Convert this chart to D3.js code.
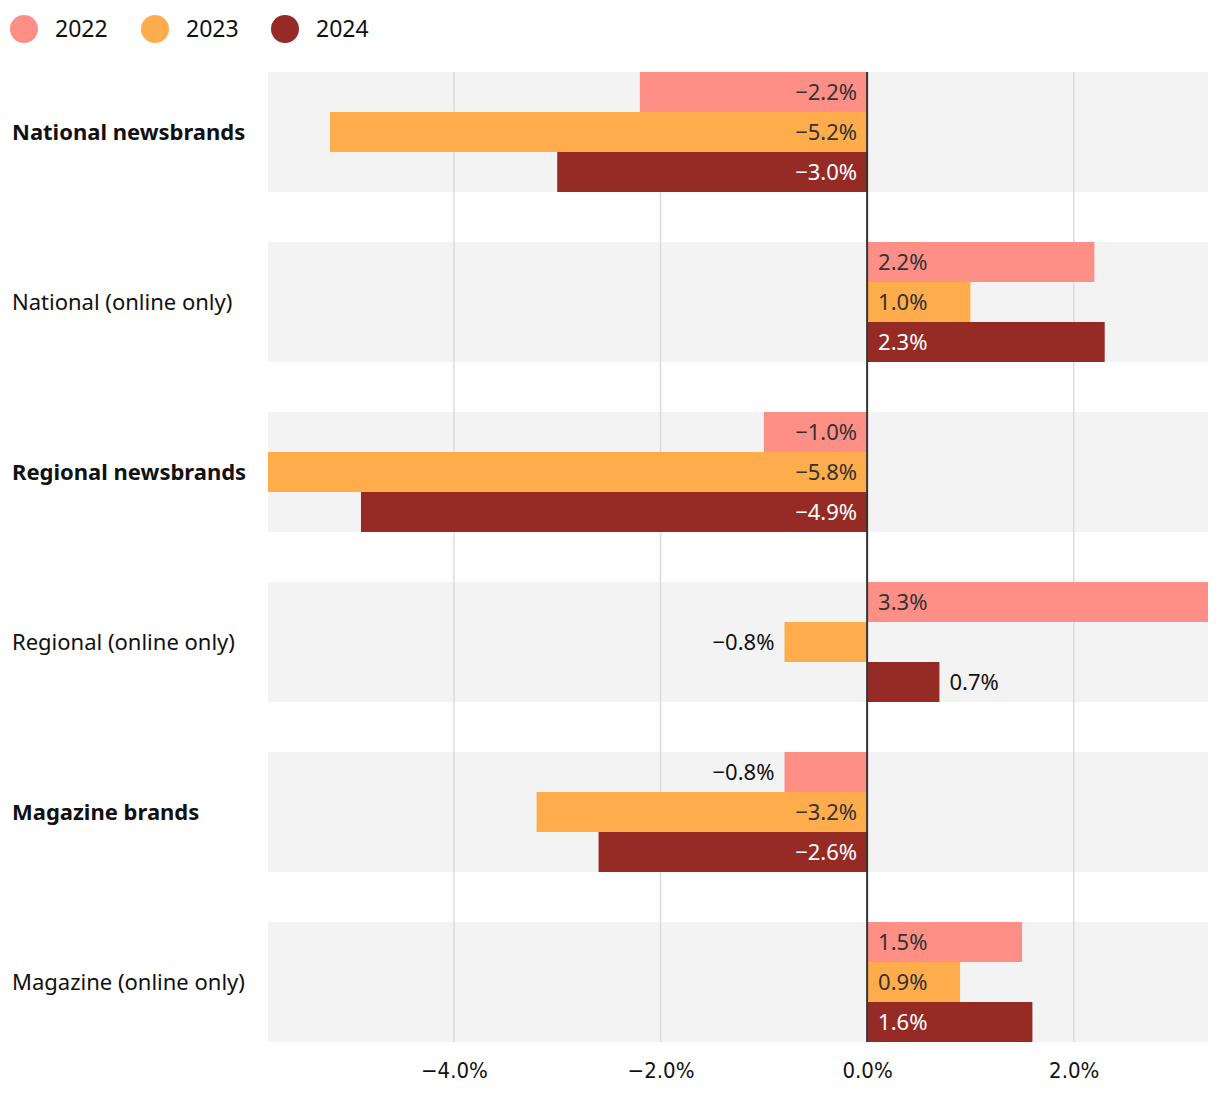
<!DOCTYPE html>
<html><head><meta charset="utf-8">
<script src="https://cdn.jsdelivr.net/npm/d3@7"></script>
<style>
body{margin:0;background:#fff;}
svg{display:block;font-family:"Noto Sans","Open Sans",sans-serif;}
</style></head>
<body><svg id="chart" width="1220" height="1094"></svg>
<script>
const categories = ["National newsbrands","National (online only)","Regional newsbrands","Regional (online only)","Magazine brands","Magazine (online only)"];
const boldCategories = ["National newsbrands","Regional newsbrands","Magazine brands"];
const seriesNames = ["2022","2023","2024"];
const values2022 = [-2.2, 2.2, -1.0, 3.3, -0.8, 1.5];
const values2023 = [-5.2, 1.0, -5.8, -0.8, -3.2, 0.9];
const values2024 = [-3.0, 2.3, -4.9, 0.7, -2.6, 1.6];
const tickValues = [-4, -2, 0, 2];
const colors = ["#fe8f87","#ffac4c","#962b26"];
const labelColors = ["#333","#333","#fff"];

(function(){
const series = [values2022, values2023, values2024];
const svg = d3.select("#chart");
const pl = 268, pr = 1208, pt = 72;
const x = d3.scaleLinear().domain([-5.8, 3.3]).range([pl, pr]);
const yb = d3.scaleBand().domain(categories).range([pt, pt + 170*6 - 50]).paddingInner(50/170).paddingOuter(0);
const ys = d3.scaleBand().domain(seriesNames).range([0, yb.bandwidth()]);
const pb = yb(categories[categories.length-1]) + yb.bandwidth();

// legend
const lg = svg.append("g");
const legX = [24, 155, 285];
seriesNames.forEach((s,i)=>{
  lg.append("circle").attr("cx",legX[i]).attr("cy",29).attr("r",14).attr("fill",colors[i]);
  lg.append("text").attr("x",legX[i]+31).attr("y",29).attr("dy","0.35em").attr("font-size",23).attr("fill","#111").text(s);
});

// backgrounds
svg.append("g").selectAll("rect").data(categories).join("rect")
  .attr("x",pl).attr("width",pr-pl).attr("y",d=>yb(d)).attr("height",yb.bandwidth()).attr("fill","#f3f3f3");

// grid
svg.append("g").selectAll("line").data(tickValues.filter(t=>t!==0)).join("line")
  .attr("x1",d=>x(d)).attr("x2",d=>x(d)).attr("y1",pt).attr("y2",pb)
  .attr("stroke","#dcdcdc").attr("stroke-width",1.5);

// bars
const bars = svg.append("g");
categories.forEach((c,ci)=>{
  series.forEach((vals,si)=>{
    const v = vals[ci];
    const y0 = yb(c) + ys(seriesNames[si]);
    bars.append("rect").attr("x",Math.min(x(0),x(v))).attr("width",Math.abs(x(v)-x(0)))
      .attr("y",y0).attr("height",ys.bandwidth()).attr("fill",colors[si]);
    const inside = Math.abs(v) >= 0.85;
    const txt = (v<0?"\u2212":"") + Math.abs(v).toFixed(1) + "%";
    let tx, anchor, fill;
    if(inside){
      tx = v<0 ? x(0)-10 : x(0)+11; anchor = v<0?"end":"start"; fill = labelColors[si];
    } else {
      tx = v<0 ? x(v)-10 : x(v)+10; anchor = v<0?"end":"start"; fill = "#111";
    }
    bars.append("text").attr("x",tx).attr("y",y0+ys.bandwidth()/2).attr("dy","0.35em")
      .attr("text-anchor",anchor).attr("font-size",22).attr("fill",fill).text(txt);
  });
});

// zero line
svg.append("line").attr("x1",x(0)).attr("x2",x(0)).attr("y1",pt).attr("y2",pb)
  .attr("stroke","#333").attr("stroke-width",2);

// category labels
svg.append("g").selectAll("text").data(categories).join("text")
  .attr("x",12).attr("y",d=>yb(d)+yb.bandwidth()/2).attr("dy","0.35em")
  .attr("font-size",22).attr("fill","#111")
  .attr("font-weight",d=>boldCategories.includes(d)?"bold":"normal")
  .text(d=>d);

// axis
const axis = d3.axisBottom(x).tickValues(tickValues).tickSize(0).tickPadding(0)
  .tickFormat(d=>(d<0?"\u2212":"")+Math.abs(d).toFixed(1)+"%");
const ag = svg.append("g").attr("transform",`translate(0,1070)`).call(axis);
ag.select(".domain").remove();
ag.selectAll("text").attr("font-size",22).attr("fill","#111").attr("dy","0.35em").attr("y",0)
  .style("font-family","'Liberation Sans Narrow','DejaVu Sans Condensed','Noto Sans',sans-serif");
})();
</script></body></html>
